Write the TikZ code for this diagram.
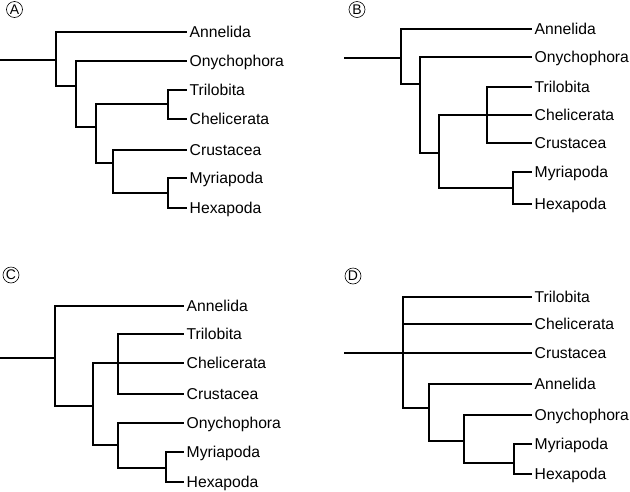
\documentclass[tikz,border=0pt]{standalone}
\usepackage{fontspec}
\setmainfont{Liberation Sans}
\usepackage{tikz}
\usetikzlibrary{calc}

\tikzset{
  branch/.style={line width=2.3pt},
  taxon/.style={anchor=west, inner sep=2.5pt, text height=11.2pt, text depth=0pt,
    font=\fontsize{15.7}{18}\selectfont},
  tag/.style={circle, draw, line width=0.6pt, minimum size=16pt, inner sep=0pt,
    font=\fontsize{14}{16}\selectfont}
}

\begin{document}
\begin{tikzpicture}[x=1pt,y=-1pt]
\useasboundingbox (0,0) rectangle (630,491);

% panel A
\node[tag] (tagA) at (14.5,9.5) {A};
\coordinate (rA) at (0,60);
\coordinate (a1) at (56,60);
\coordinate (a2) at (76,86);
\coordinate (a3) at (96,127);
\coordinate (a4) at (168,104);
\coordinate (a5) at (113,163);
\coordinate (a6) at (168,193);
\node[taxon] (annA) at (187,32) {Annelida};
\node[taxon] (onyA) at (187,61) {Onychophora};
\node[taxon] (triA) at (187,90) {Trilobita};
\node[taxon] (cheA) at (187,119) {Chelicerata};
\node[taxon] (cruA) at (187,150) {Crustacea};
\node[taxon] (myrA) at (187,178) {Myriapoda};
\node[taxon] (hexA) at (187,208) {Hexapoda};
\draw[branch] (rA) -- (a1);
\draw[branch] (a1) |- (annA.west) (a1) |- (a2);
\draw[branch] (a2) |- (onyA.west) (a2) |- (a3);
\draw[branch] (a3) |- (a4) (a3) |- (a5);
\draw[branch] (a4) |- (triA.west) (a4) |- (cheA.west);
\draw[branch] (a5) |- (cruA.west) (a5) |- (a6);
\draw[branch] (a6) |- (myrA.west) (a6) |- (hexA.west);

% panel B
\node[tag] (tagB) at (357,9.5) {B};
\coordinate (rB) at (344,58);
\coordinate (b1) at (401,58);
\coordinate (b2) at (420,84);
\coordinate (b3) at (439,153);
\coordinate (b4) at (487,115);
\coordinate (b5) at (513,188);
\node[taxon] (annB) at (532,29) {Annelida};
\node[taxon] (onyB) at (532,57) {Onychophora};
\node[taxon] (triB) at (532,87) {Trilobita};
\node[taxon] (cheB) at (532,115) {Chelicerata};
\node[taxon] (cruB) at (532,143) {Crustacea};
\node[taxon] (myrB) at (532,172) {Myriapoda};
\node[taxon] (hexB) at (532,204) {Hexapoda};
\draw[branch] (rB) -- (b1);
\draw[branch] (b1) |- (annB.west) (b1) |- (b2);
\draw[branch] (b2) |- (onyB.west) (b2) |- (b3);
\draw[branch] (b3) |- (b4) (b3) |- (b5);
\draw[branch] (b4) |- (triB.west) (b4) -- (cheB.west) (b4) |- (cruB.west);
\draw[branch] (b5) |- (myrB.west) (b5) |- (hexB.west);

% panel C
\node[tag] (tagC) at (11,275) {C};
\coordinate (rC) at (0,358);
\coordinate (c1) at (55,358);
\coordinate (c2) at (93,406);
\coordinate (c3) at (118,363);
\coordinate (c4) at (118,445);
\coordinate (c5) at (166,468);
\node[taxon] (annC) at (184,306) {Annelida};
\node[taxon] (triC) at (184,334) {Trilobita};
\node[taxon] (cheC) at (184,363) {Chelicerata};
\node[taxon] (cruC) at (184,394) {Crustacea};
\node[taxon] (onyC) at (184,423) {Onychophora};
\node[taxon] (myrC) at (184,452) {Myriapoda};
\node[taxon] (hexC) at (184,482) {Hexapoda};
\draw[branch] (rC) -- (c1);
\draw[branch] (c1) |- (annC.west) (c1) |- (c2);
\draw[branch] (c2) |- (c3) (c2) |- (c4);
\draw[branch] (c3) |- (triC.west) (c3) -- (cheC.west) (c3) |- (cruC.west);
\draw[branch] (c4) |- (onyC.west) (c4) |- (c5);
\draw[branch] (c5) |- (myrC.west) (c5) |- (hexC.west);

% panel D
\node[tag] (tagD) at (353,276) {D};
\coordinate (rD) at (344,353);
\coordinate (d1) at (403,353);
\coordinate (d2) at (429,408);
\coordinate (d3) at (464,441);
\coordinate (d4) at (514,463);
\node[taxon] (triD) at (532,297) {Trilobita};
\node[taxon] (cheD) at (532,324) {Chelicerata};
\node[taxon] (cruD) at (532,353) {Crustacea};
\node[taxon] (annD) at (532,384) {Annelida};
\node[taxon] (onyD) at (532,415) {Onychophora};
\node[taxon] (myrD) at (532,444) {Myriapoda};
\node[taxon] (hexD) at (532,474) {Hexapoda};
\draw[branch] (rD) -- (d1);
\draw[branch] (d1) |- (triD.west) (d1) |- (cheD.west) (d1) -- (cruD.west) (d1) |- (d2);
\draw[branch] (d2) |- (annD.west) (d2) |- (d3);
\draw[branch] (d3) |- (onyD.west) (d3) |- (d4);
\draw[branch] (d4) |- (myrD.west) (d4) |- (hexD.west);
\end{tikzpicture}
\end{document}
